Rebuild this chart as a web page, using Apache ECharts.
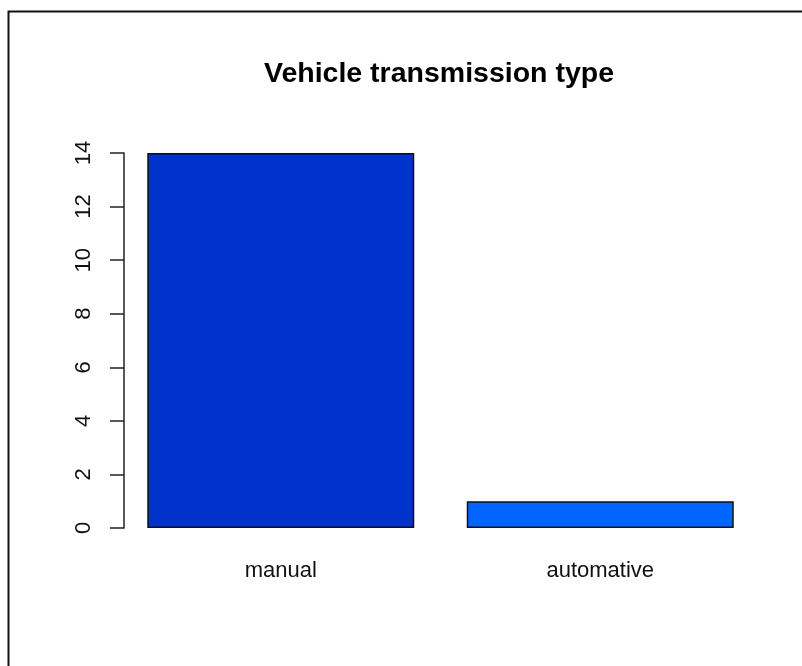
<!DOCTYPE html>
<html>
<head>
    <meta charset="utf-8">
    <title>Vehicle transmission type</title>
    <script src="https://cdn.jsdelivr.net/npm/echarts@6/dist/echarts.min.js"></script>
    <style>
        html, body { margin: 0; padding: 0; background: #fff; }
        #chart { width: 802px; height: 666px; }
    </style>
</head>
<body>
<div id="chart"></div>
<script>
    // 数据
    var categories = ['manual', 'automative'];
    var counts = [14, 1];
    var barColors = ['#0033CC', '#0066FF'];
    var yTicks = [0, 2, 4, 6, 8, 10, 12, 14];

    var myChart = echarts.init(document.getElementById('chart'));

    var option = {
        backgroundColor: '#ffffff',
        animation: false,
        title: {
            text: 'Vehicle transmission type',
            left: 434,
            textAlign: 'center',
            top: 55,
            textStyle: {
                fontFamily: 'Liberation Sans',
                fontWeight: 'bold',
                fontSize: 28.5,
                color: '#000'
            }
        },
        // 外框（左、上两边可见）
        graphic: [{
            type: 'polyline',
            shape: { points: [[8.5, 700], [8.5, 11.5], [820, 11.5]] },
            style: { stroke: '#111', lineWidth: 2, fill: null }
        }],
        grid: {
            left: 121,
            width: 639,
            top: 153,
            height: 375
        },
        xAxis: {
            type: 'category',
            data: categories,
            axisLine: { show: false },
            axisTick: { show: false },
            axisLabel: {
                margin: 32,
                fontFamily: 'Liberation Sans',
                fontSize: 22,
                color: '#111'
            }
        },
        yAxis: {
            type: 'value',
            min: yTicks[0],
            max: yTicks[yTicks.length - 1],
            interval: 2,
            offset: -3,
            splitLine: { show: false },
            axisLine: { show: true, lineStyle: { color: '#222', width: 1.5 } },
            axisTick: { show: true, length: 14, lineStyle: { color: '#222', width: 1.5 } },
            axisLabel: {
                rotate: 90,
                margin: 29,
                fontFamily: 'Liberation Sans',
                fontSize: 22,
                color: '#111'
            }
        },
        series: [{
            type: 'bar',
            barWidth: 267,
            data: counts.map(function (v, i) {
                return {
                    value: v,
                    itemStyle: { color: barColors[i], borderColor: '#111', borderWidth: 1.5 }
                };
            })
        }]
    };

    myChart.setOption(option);
</script>
</body>
</html>
